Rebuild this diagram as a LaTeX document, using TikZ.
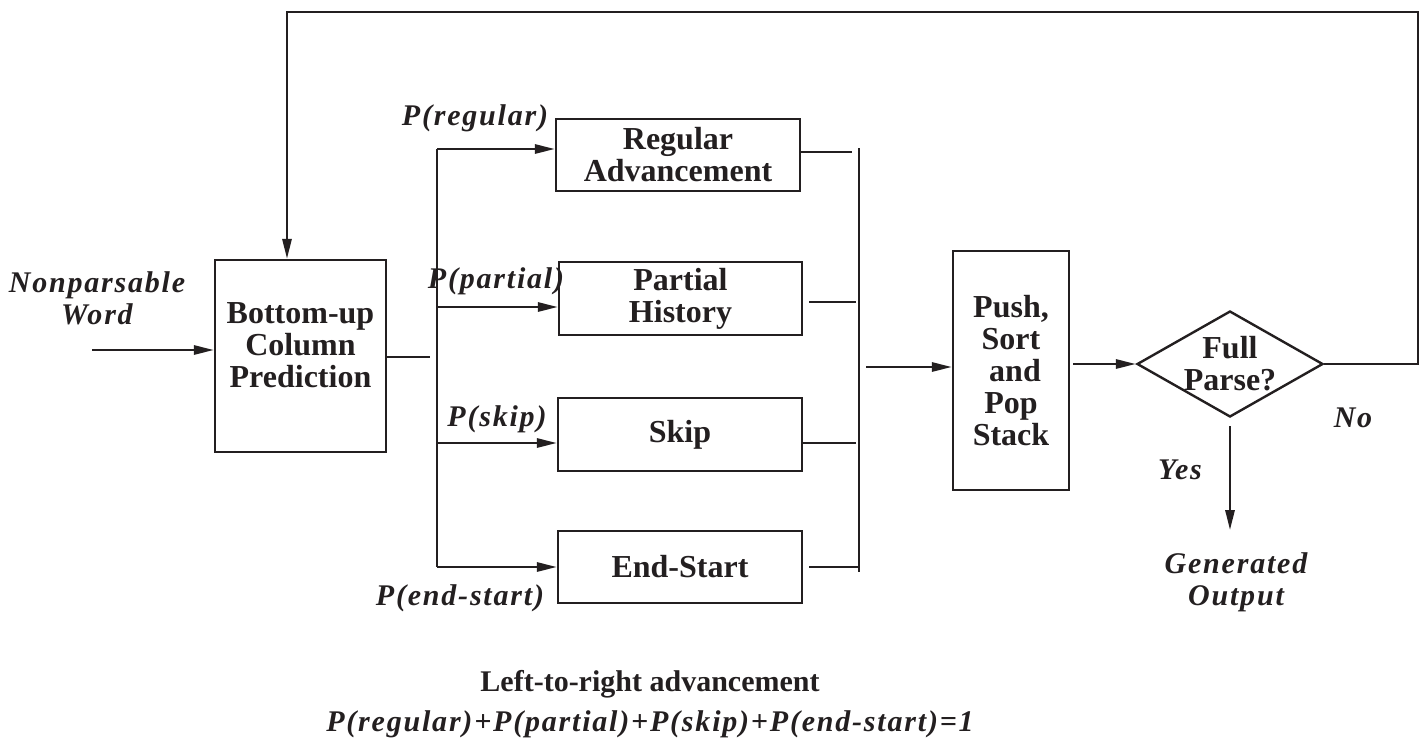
\documentclass[tikz,border=0pt]{standalone}
\usepackage{fontspec}
\setmainfont{Liberation Serif}
\newfontfamily\labfont[LetterSpace=6]{Liberation Serif}
\usetikzlibrary{arrows.meta,shapes.geometric}
\definecolor{ink}{HTML}{231F20}
\tikzset{
  box/.style={draw=ink, line width=1.2pt, align=center, inner sep=0pt,
    font=\fontsize{16}{16}\selectfont\bfseries, text=ink},
  boxtext/.style={box, draw=none},
  lab/.style={inner sep=0pt, align=center, text=ink,
    font=\fontsize{15}{16}\selectfont\labfont\bfseries\itshape},
  conn/.style={draw=ink, line width=1.2pt},
  arr/.style={conn, -{Triangle[length=10pt,width=4.6pt]}},
}
\begin{document}
\begin{tikzpicture}[x=0.5pt,y=-0.5pt]
\useasboundingbox (0,0) rectangle (1426,751);

% processing blocks
\node[box, minimum width=85.5pt, minimum height=96pt] (bu) at (300.5,356) {};
\node[boxtext] (butxt) at (300.5,345) {Bottom-up\\Column\\Prediction};
\node[box, minimum width=122pt, minimum height=36pt] (ra) at (678,155)
  {Regular\\Advancement};
\node[box, minimum width=121.5pt, minimum height=36.5pt] (ph) at (680.5,298.5)
  {Partial\\History};
\node[box, minimum width=122pt, minimum height=36.5pt] (sk) at (680,434.5)
  {\raisebox{-3.5pt}{Skip}};
\node[box, minimum width=122pt, minimum height=36pt] (es) at (680,567) {End-Start};
\node[box, minimum width=58pt, minimum height=119.5pt] (ps) at (1011,370.5)
  {Push,\\Sort\\\ and\\Pop\\Stack};

% decision
\node[draw=ink, line width=1.2pt, shape=diamond, aspect=1.755, inner sep=0pt,
  minimum width=93pt, minimum height=53pt] (fp) at (1230,364) {};
\node[boxtext] (fptxt) at (1230,364) {Full\\Parse?};

% labels
\node[lab] (nw) at (97,298) {Nonparsable\\Word};
\node[lab] (lreg) at (475,118) {P(regular)};
\node[lab] (lpar) at (496,281) {P(partial)};
\node[lab] (lskp) at (497,419) {P(skip)};
\node[lab] (lend) at (460,598) {P(end-start)};
\node[lab] (lno) at (1353,418) {No};
\node[lab] (lyes) at (1180,470) {Yes};
\node[lab] (go) at (1236,582) {Generated\\Output};
\node[inner sep=0pt, text=ink, font=\fontsize{15}{16}\selectfont\bfseries] (cap) at (650,684)
  {Left-to-right advancement};
\node[lab] (sum) at (650,724) {P(regular)+P(partial)+P(skip)+P(end-start)=1};

% input
\coordinate (in) at (92,350);
\draw[arr] (in) -- (in -| bu.west);
\coordinate (buOut) at (430,357);
\draw[conn] (buOut -| bu.east) -- (buOut);

% split bus
\coordinate (sT) at (437,149);
\coordinate (s2) at (437,307);
\coordinate (s3) at (437,443);
\coordinate (sB) at (437,567);
\draw[conn] (sT) -- (sB);
\draw[arr] (sT) -- (sT -| ra.west);
\draw[arr] (s2) -- (s2 -| ph.west);
\draw[arr] (s3) -- (s3 -| sk.west);
\draw[arr] (sB) -- (sB -| es.west);

% merge bus
\coordinate (mT) at (859,148);
\coordinate (mB) at (859,572);
\draw[conn] (mT) -- (mB);
\coordinate (m1) at (852,152);
\coordinate (m2) at (856,302);
\coordinate (m3) at (856,443);
\coordinate (m4) at (859,567);
\draw[conn] (m1 -| ra.east) -- (m1);
\draw[conn] ([xshift=3pt]m2 -| ph.east) -- (m2);
\draw[conn] (m3 -| sk.east) -- (m3);
\draw[conn] ([xshift=3pt]m4 -| es.east) -- (m4);
\coordinate (mOut) at (866,367);
\draw[arr] (mOut) -- (mOut -| ps.west);

% to decision
\draw[arr] ([xshift=1.5pt]ps.east |- fp.west) -- (fp.west);

% loop back
\coordinate (lR) at (1418,364);
\coordinate (lL) at (287,12);
\draw[arr] (fp.east) -- (lR) |- (lL) -- (lL |- bu.north);

% yes branch
\coordinate (yEnd) at (1230,530);
\draw[arr] ([yshift=-4pt]fp.south) -- (yEnd);
\end{tikzpicture}
\end{document}
